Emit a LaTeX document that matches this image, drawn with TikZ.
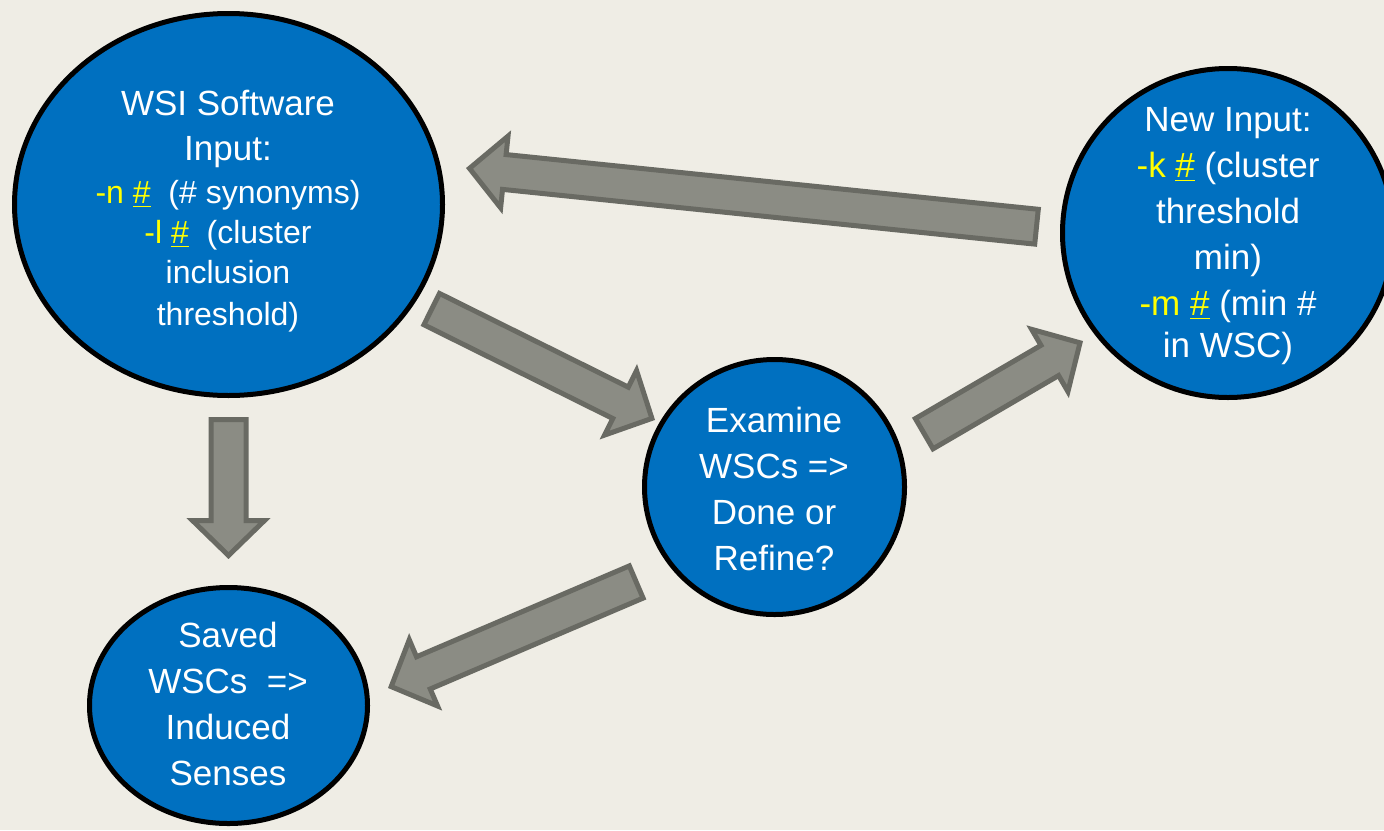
\documentclass[tikz,border=0pt]{standalone}
\usepackage{fontspec}
\setmainfont{Liberation Sans}
\usetikzlibrary{calc,shapes.geometric}
\definecolor{bgc}{HTML}{EFEDE5}
\definecolor{nodeblue}{HTML}{0070C0}
\definecolor{arrfill}{HTML}{8B8C84}
\definecolor{arrline}{HTML}{696A63}
\definecolor{yel}{HTML}{FFFF00}
\newcommand\yl[1]{\textcolor{yel}{#1}}
\newcommand\smallfs{\fontsize{16}{23}\selectfont}
\newcommand\drawblockarrow[2]{%
  \coordinate (ba-h) at ($(#2)!17.5pt!(#1)$);
  \draw[blockarrow] ($(#1)!8.75pt!90:(#2)$) -- ($(ba-h)!8.75pt!90:(#2)$)
    -- ($(ba-h)!18pt!90:(#2)$) -- (#2) -- ($(ba-h)!18pt!-90:(#2)$)
    -- ($(ba-h)!8.75pt!-90:(#2)$) -- ($(#1)!8.75pt!-90:(#2)$) -- cycle;}
\begin{document}
\begin{tikzpicture}[x=0.5pt,y=-0.5pt,
  bubble/.style={ellipse, draw=black, line width=2.5pt, fill=nodeblue, inner sep=0pt},
  lbl/.style={text=white, align=center, inner sep=0pt, anchor=north,
    font=\fontsize{17.5}{23}\selectfont},
  blockarrow/.style={fill=arrfill, draw=arrline, line width=2.5pt, line join=miter}]
\useasboundingbox (0,0) rectangle (1384,830);
\fill[bgc] (0,0) rectangle (1384,830);

% bubbles
\node[bubble, minimum width=214pt, minimum height=191pt] (wsi) at (228.5,204.5) {};
\node[bubble, minimum width=165.5pt, minimum height=164.5pt] (newin) at (1228,233) {};
\node[bubble, minimum width=130pt, minimum height=127.5pt] (exam) at (774.5,487) {};
\node[bubble, minimum width=139pt, minimum height=118pt] (saved) at (228.5,705.5) {};

% texts
\node[lbl] (wsitext) at (228,89.5) {WSI Software\\[-0.5pt]
  Input:\\[-1.5pt]
  \smallfs\yl{-n \underline{\#}}\ \ (\# synonyms)\\[-3pt]
  \smallfs\yl{-l \underline{\#}}\ \ (cluster\\[-3pt]
  \smallfs inclusion\\[-2pt]
  \smallfs threshold)};
\node[lbl] (newintext) at (1228,107) {New Input:\\
  \yl{-k \underline{\#}} (cluster\\
  threshold\\
  min)\\
  \yl{-m \underline{\#}} (min \#\\[-2pt]
  in WSC)};
\node[lbl] (examtext) at (774,407) {Examine\\WSCs =>\\Done or\\Refine?};
\node[lbl] (savedtext) at (228,621.5) {Saved\\WSCs\ \ =>\\Induced\\Senses};

% arrow end points
\coordinate (a1t) at (1036.5,226.7);
\coordinate (a1p) at (469.5,168.4);
\coordinate (a2t) at (431.7,309.1);
\coordinate (a2p) at (651.9,418.4);
\coordinate (a3t) at (924.2,433.7);
\coordinate (a3p) at (1080,342.8);
\coordinate (a4t) at (228.5,419.5);
\coordinate (a4p) at (228.5,555.5);
\coordinate (a5t) at (636.2,582);
\coordinate (a5p) at (391.2,686.6);

\drawblockarrow{a1t}{a1p}
\drawblockarrow{a2t}{a2p}
\drawblockarrow{a3t}{a3p}
\drawblockarrow{a4t}{a4p}
\drawblockarrow{a5t}{a5p}
\end{tikzpicture}
\end{document}
